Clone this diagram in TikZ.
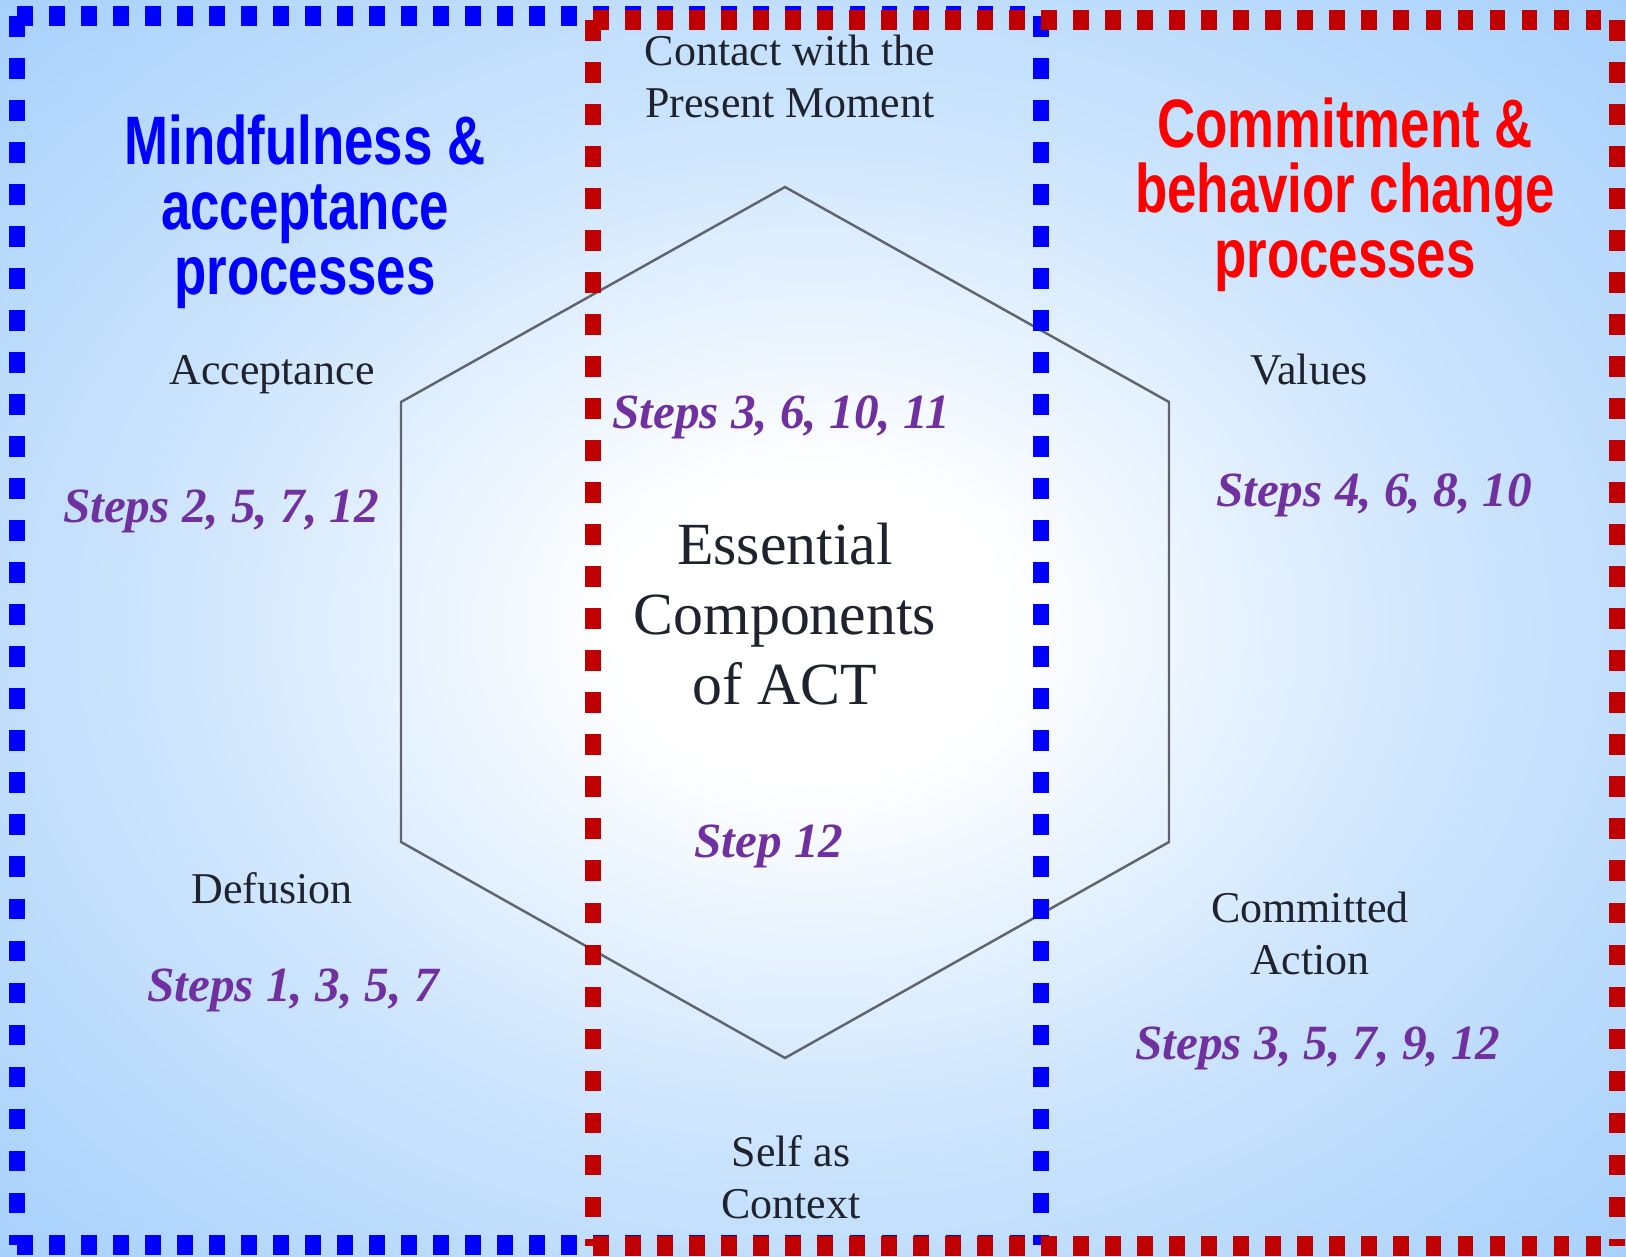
\documentclass[tikz,border=0pt]{standalone}
\usepackage{fontspec}
\setmainfont{Liberation Serif}
\newfontfamily\titlefont[FakeStretch=0.77]{Liberation Sans}
\definecolor{bgblue}{RGB}{156,203,251}
\definecolor{dashblue}{RGB}{0,0,255}
\definecolor{dashred}{RGB}{192,0,0}
\definecolor{titlered}{RGB}{255,0,0}
\definecolor{stepviolet}{RGB}{112,48,160}
\definecolor{inkgray}{RGB}{30,35,45}
\definecolor{hexgray}{RGB}{95,100,110}
\pgfdeclareradialshading{bgglow}{\pgfpoint{0bp}{0bp}}{color(0bp)=(white); color(6bp)=(white); color(20bp)=(bgblue!50!white); color(40bp)=(bgblue); color(75bp)=(bgblue)}

\begin{document}
\begin{tikzpicture}[x=0.01cm, y=-0.01cm,
  hside/.style={line width=0.2cm, dash pattern=on 0.156cm off 0.164cm},
  vside/.style={line width=0.156cm, dash pattern=on 0.205cm off 0.215cm},
  proc/.style={font=\fontsize{12.5}{14.8}\selectfont, text=inkgray, align=center, inner sep=0pt},
  stepnote/.style={font=\fontsize{14}{16}\selectfont\bfseries\itshape, text=stepviolet, inner sep=0pt},
  grouptitle/.style={font=\titlefont\bfseries\fontsize{19.5}{18.5}\selectfont, align=center, inner sep=0pt}]
  \useasboundingbox (0,0) rectangle (1626,1257);
  \shade[shading=bgglow] (0,0) rectangle (1626,1257);
  % hexagon of the six processes
  \coordinate (hT) at (785,187);
  \coordinate (hUR) at (1169,402);
  \coordinate (hLR) at (1169,842);
  \coordinate (hB) at (785,1058);
  \coordinate (hLL) at (401,842);
  \coordinate (hUL) at (401,402);
  \draw[hexgray, line width=0.7pt] (hT) -- (hUR) -- (hLR) -- (hB) -- (hLL) -- (hUL) -- cycle;
  % blue frame: mindfulness & acceptance side
  \draw[dashblue, hside] (17,16) -- (1041,16) (17,1245) -- (1041,1245);
  \draw[dashblue, vside] (17,16) -- (17,1245) (1041,16) -- (1041,1245);
  % red frame: commitment & behavior change side
  \draw[dashred, hside] (593,20) -- (1617,20) (593,1246) -- (1617,1246);
  \draw[dashred, vside] (593,20) -- (593,1246) (1617,20) -- (1617,1246);
  \node[grouptitle, text=dashblue] (mindtitle) at (305,212) {Mindfulness \&\\acceptance\\processes};
  \node[grouptitle, text=titlered] (committitle) at (1345,195) {Commitment \&\\behavior change\\processes};
  \node[proc] (contact) at (790,76) {Contact with the\\Present Moment};
  \node[proc] (accept) at (272,375) {Acceptance};
  \node[proc] (defusion) at (272,888) {Defusion};
  \node[proc] (values) at (1309,370) {Values};
  \node[proc] (committed) at (1310,933) {Committed\\Action};
  \node[proc] (selfctx) at (791,1177) {Self as\\Context};
  \node[font=\fontsize{17}{20}\selectfont, text=inkgray, align=center, inner sep=0pt] (core) at (785,614) {Essential\\Components\\of ACT};
  \node[stepnote] (stepsA) at (221,511) {Steps 2, 5, 7, 12};
  \node[stepnote] (stepsD) at (293,990) {Steps 1, 3, 5, 7};
  \node[stepnote] (stepsC) at (781,417) {Steps 3, 6, 10, 11};
  \node[stepnote] (stepsS) at (769,846) {Step 12};
  \node[stepnote] (stepsV) at (1374,495) {Steps 4, 6, 8, 10};
  \node[stepnote] (stepsCA) at (1318,1048) {Steps 3, 5, 7, 9, 12};
\end{tikzpicture}
\end{document}
